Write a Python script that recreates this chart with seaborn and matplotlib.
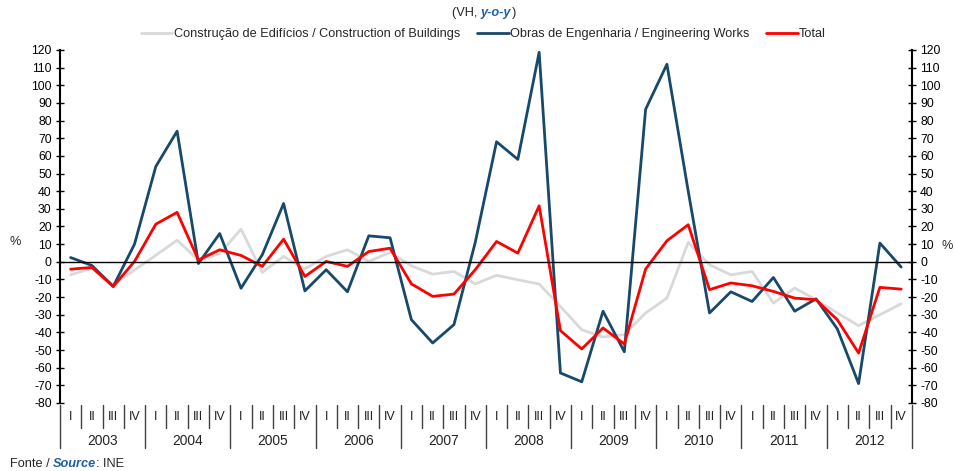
import seaborn as sns
import matplotlib.pyplot as plt
import matplotlib.transforms as mtransforms
import pandas as pd
import numpy as np

# Quarterly y-o-y change, 2003 Q1 - 2012 Q4
years = ['2003', '2004', '2005', '2006', '2007', '2008', '2009', '2010', '2011', '2012']
quarters = ['I', 'II', 'III', 'IV']

buildings = [-7.4, -3.6, -13, -4.7, 3.7, 12.2, 1, 4.5, 18.5, -6, 3, -4,
             3, 6.8, 0.2, 5.3, -2.3, -7, -5.5, -12.5, -7.7, -10.2, -12.6, -25.3,
             -38.5, -42.6, -41.3, -29, -20.6, 11, -1.7, -7.4, -5.5, -23.4, -14.9, -21.5,
             -29, -36.2, -30, -23.8]
engineering = [2.4, -2.1, -14, 10, 54, 74, -1, 16, -15, 4, 33, -16.5,
               -4.5, -17, 14.7, 13.6, -32.8, -46, -35.6, 11, 68, 58, 118.7, -63,
               -68, -28, -51, 86.4, 111.9, 40, -29, -17, -22.5, -8.9, -28, -21,
               -38, -69, 10.6, -3]
total = [-4.2, -3.2, -14, 0.2, 21.3, 28, 1, 6.8, 3.6, -2.6, 12.8, -8.3,
         0.2, -2.6, 5.8, 7.7, -12.5, -19.6, -18.3, -4.5, 11.5, 4.9, 31.7, -39,
         -49.4, -37.5, -46.6, -4.1, 11.9, 21, -15.8, -12, -13.6, -16.8, -20.6, -21.5,
         -32.8, -51.7, -14.5, -15.5]

names = ['Construção de Edifícios / Construction of Buildings',
         'Obras de Engenharia / Engineering Works',
         'Total']
colors = ['#D9D9D9', '#17496A', '#FF0000']

n = len(total)
df = pd.DataFrame({
    'q': np.tile(np.arange(n), 3),
    'value': buildings + engineering + total,
    'series': np.repeat(names, n),
})

sns.set_style('white')
plt.rcParams['font.family'] = ['Liberation Sans', 'DejaVu Sans']
plt.rcParams['axes.unicode_minus'] = False
fs = 8.7   # tick labels
fl = 9.2   # legend / title / source

fig = plt.figure(figsize=(9.55, 4.71), dpi=100)
ax = fig.add_axes([0.0628, 0.1444, 0.892, 0.7495])

sns.lineplot(data=df, x='q', y='value', hue='series', hue_order=names,
             palette=colors, linewidth=2, ax=ax, legend=True)

ax.set_xlim(-0.5, n - 0.5)
ax.set_ylim(-80, 120)
ax.set_yticks(np.arange(-80, 121, 10))
ax.set_xlabel('')
ax.set_ylabel('')

for s in ['top', 'right']:
    ax.spines[s].set_visible(False)
ax.spines['left'].set_color('black')
ax.spines['left'].set_linewidth(1.5)
ax.spines['bottom'].set_position(('data', 0))
ax.spines['bottom'].set_color('black')
ax.spines['bottom'].set_linewidth(1)

ax.set_xticks(np.arange(-0.5, n, 1))
ax.tick_params(axis='x', direction='out', length=4, width=1, colors='black',
               labelbottom=False)
ax.tick_params(axis='y', direction='inout', length=6, width=1, labelsize=fs,
               colors='black', left=True, pad=3)

ax2 = ax.twinx()
ax2.set_ylim(ax.get_ylim())
ax2.set_yticks(np.arange(-80, 121, 10))
for s in ['top', 'left', 'bottom']:
    ax2.spines[s].set_visible(False)
ax2.spines['right'].set_color('black')
ax2.spines['right'].set_linewidth(1.5)
ax2.tick_params(axis='y', direction='inout', length=6, width=1, labelsize=fs,
                colors='black', right=True, pad=3)
ax2.grid(False)

# category axis below the plot
trans = mtransforms.blended_transform_factory(ax.transData, ax.transAxes)
for k in range(n + 1):
    xb = k - 0.5
    low = -0.127 if k % 4 == 0 else -0.071
    ax.plot([xb, xb], [-0.006, low], color='#404040', lw=1,
            transform=trans, clip_on=False)
for k in range(n):
    ax.text(k, -0.04, quarters[k % 4], transform=trans, ha='center', va='center',
            fontsize=fs + 0.3, color='#222222')
for j, y in enumerate(years):
    ax.text(j * 4 + 1.5, -0.108, y, transform=trans, ha='center', va='center',
            fontsize=fs + 1.2, color='#222222')

fig.text(15 / 955, 1 - 242 / 471, '%', ha='center', va='center', fontsize=fs + 0.5)
fig.text(953 / 955, 1 - 246 / 471, '%', ha='right', va='center', fontsize=fs + 0.5)

leg = ax.legend(loc='center', bbox_to_anchor=(0.506, 1 - 34 / 471), bbox_transform=fig.transFigure,
                ncol=3, frameon=False, fontsize=fl, handlelength=2.5,
                handletextpad=0.1, columnspacing=1.3, borderpad=0)
for line in leg.get_lines():
    line.set_linewidth(2)

# title "(VH, y-o-y)"
t1 = fig.text(481 / 955, 1 - 13 / 471, '(VH, ', ha='right', va='center', fontsize=fl)
t2 = ax.annotate('y-o-y', xy=(1, 0), xycoords=t1, va='bottom', ha='left',
                 fontsize=fl, color='#1F5FA6', fontweight='bold', fontstyle='italic')
ax.annotate(')', xy=(1, 0), xycoords=t2, va='bottom', ha='left', fontsize=fl)

# source
s1 = fig.text(10 / 955, 1 - 464 / 471, 'Fonte / ', ha='left', va='center', fontsize=fl)
s2 = ax.annotate('Source', xy=(1, 0), xycoords=s1, va='bottom', ha='left',
                 fontsize=fl, color='#1F5FA6', fontweight='bold', fontstyle='italic')
ax.annotate(': INE', xy=(1, 0), xycoords=s2, va='bottom', ha='left', fontsize=fl)

plt.savefig('out.png', dpi=100, facecolor='white')
plt.close()
